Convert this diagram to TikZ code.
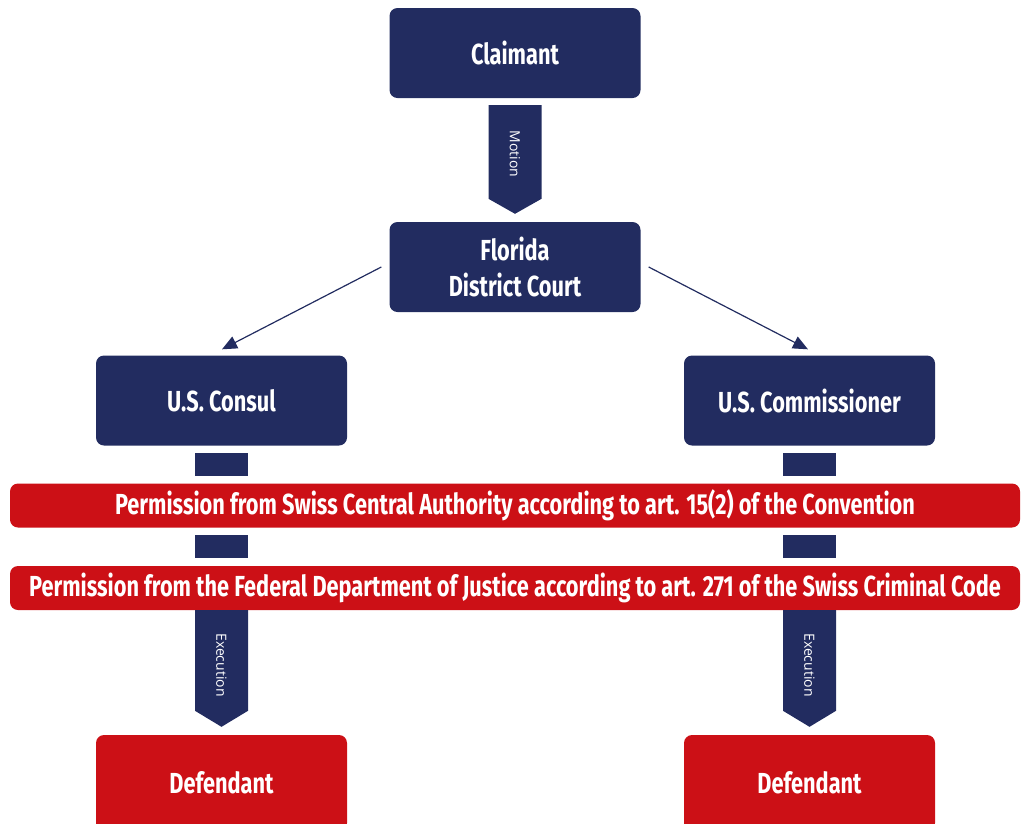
\documentclass[tikz,border=0pt]{standalone}
\usepackage{fontspec}
\setmainfont{Fira Sans}
\newfontfamily\lblfont{Open Sans}
\usetikzlibrary{arrows.meta,calc}
\definecolor{navy}{RGB}{34,44,96}
\definecolor{redc}{RGB}{204,16,22}
\newcommand{\cnd}[1]{\scalebox{0.75}[1]{#1}}
\tikzset{
  box/.style={fill=#1, rounded corners=8pt, minimum width=251pt, minimum height=90pt, inner sep=0pt,
    text=white, font=\fontsize{29}{33}\selectfont\bfseries, align=center},
  bar/.style={fill=redc, rounded corners=8pt, minimum width=1010pt, minimum height=44pt, inner sep=0pt,
    text=white, font=\fontsize{29}{33}\selectfont\bfseries},
  stub/.style={fill=navy, minimum width=53pt, minimum height=23pt, inner sep=0pt},
  blk/.style={fill=navy},
  blklbl/.style={text=white, font=\lblfont\fontsize{14}{16}\selectfont, rotate=-90, inner sep=0pt},
  conn/.style={draw=navy, line width=1.2pt, -{Triangle[length=15pt,width=13pt]}}
}
\begin{document}
\begin{tikzpicture}[x=1pt,y=-1pt]
\useasboundingbox (0,0) rectangle (1027,823);
% boxes
\node[box=navy] (claimant) at (515,53) {\cnd{Claimant}};
\node[box=navy] (court) at (515,267) {\cnd{Florida}\\[3pt]\cnd{District Court}};
\node[box=navy] (consul) at (221.5,400.5) {\cnd{U.S. Consul}};
\node[box=navy] (commis) at (809.5,400.5) {\cnd{U.S. Commissioner}};
\node[box=redc, minimum height=96pt] (defl) at (221.5,783) {\cnd{Defendant}};
\node[box=redc, minimum height=96pt] (defr) at (809.5,783) {\cnd{Defendant}};
% bars
\node[bar] (bar1) at (515,505.5) {\cnd{Permission from Swiss Central Authority according to art. 15(2) of the Convention}};
\node[bar] (bar2) at (515,588) {\cnd{Permission from the Federal Department of Justice according to art. 271 of the Swiss Criminal Code}};
% stubs
\node[stub] (s1l) at (221.5,464.5) {};
\node[stub] (s1r) at (809.5,464.5) {};
\node[stub] (s2l) at (221.5,546.5) {};
\node[stub] (s2r) at (809.5,546.5) {};
% block arrow: motion
\fill[blk] ($(claimant.south)+(-26.5,7)$) -- ($(claimant.south)+(26.5,7)$) -- ($(court.north)+(26.5,-23)$)
  -- ($(court.north)+(0,-8)$) -- ($(court.north)+(-26.5,-23)$) -- cycle;
\node[blklbl] (motion) at ($(claimant.south)!0.45!(court.north)$) {Motion};
% execution arrows
\fill[blk] ($(s2l.south)+(-26.5,52)$) -- ($(s2l.south)+(26.5,52)$) -- ($(defl.north)+(26.5,-24)$)
  -- ($(defl.north)+(0,-8)$) -- ($(defl.north)+(-26.5,-24)$) -- cycle;
\fill[blk] ($(s2r.south)+(-26.5,52)$) -- ($(s2r.south)+(26.5,52)$) -- ($(defr.north)+(26.5,-24)$)
  -- ($(defr.north)+(0,-8)$) -- ($(defr.north)+(-26.5,-24)$) -- cycle;
\node[blklbl] (exl) at (221.5,665) {Execution};
\node[blklbl] (exr) at (809.5,665) {Execution};
% connectors
\draw[conn] ($(court.west)+(-8,0)$) -- ($(consul.north)+(0.5,-6)$);
\draw[conn] ($(court.east)+(8,0)$) -- ($(commis.north)+(-1.5,-6)$);
\end{tikzpicture}
\end{document}
